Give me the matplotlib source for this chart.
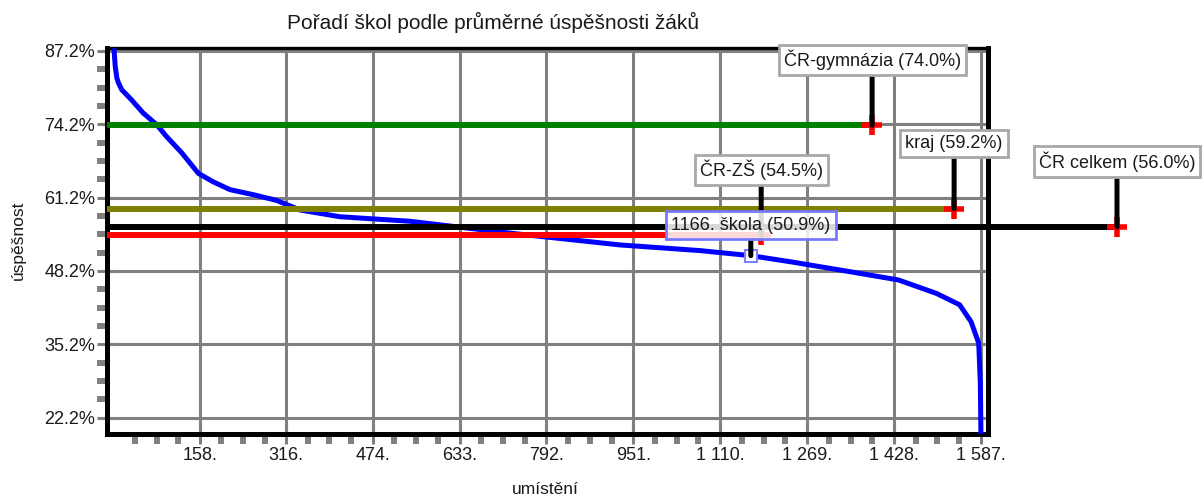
import matplotlib
matplotlib.use('Agg')
import matplotlib.pyplot as plt
import numpy as np

plt.rcParams['font.family'] = ['Liberation Sans', 'DejaVu Sans']

title = 'Pořadí škol podle průměrné úspěšnosti žáků'
xlabel = 'umístění'
ylabel = 'úspěšnost'

# sorted school curve (rank -> average success in %)
ranks = [1, 3, 6, 9, 15, 33, 54, 79, 97, 125, 155, 182, 213, 256, 298, 341, 414,
         542, 725, 927, 1073, 1166, 1240, 1345, 1436, 1506, 1548, 1569, 1583, 1586, 1587]
success = [87.2, 84.5, 82.4, 81.5, 80.3, 78.5, 76.2, 74.1, 72.0, 69.1, 65.5, 64.0, 62.6,
           61.7, 60.7, 59.0, 57.8, 57.0, 54.9, 52.8, 51.8, 50.9, 49.8, 48.1, 46.6, 44.2,
           42.2, 39.2, 35.4, 28.3, 19.6]

xtick_values = [158, 316, 474, 633, 792, 951, 1110, 1269, 1428, 1587]
xtick_labels = ['158.', '316.', '474.', '633.', '792.', '951.', '1 110.', '1 269.', '1 428.', '1 587.']
ytick_values = [22.2, 35.2, 48.2, 61.2, 74.2, 87.2]
ytick_labels = ['22.2%', '35.2%', '48.2%', '61.2%', '74.2%', '87.2%']

ref_names = ['ČR-gymnázia', 'kraj', 'ČR celkem', 'ČR-ZŠ']
ref_values = [74.0, 59.2, 56.0, 54.5]
ref_label_x = [1388, 1538, 1836, 1185]
ref_colors = ['#008000', '#808000', '#000000', '#ff0000']

school_rank = 1166
school_value = 50.9

W, H = 1202, 498
fig = plt.figure(figsize=(W / 100, H / 100), dpi=100)
ax = fig.add_axes([107 / W, 1 - 434 / H, (988 - 107) / W, (434 - 48) / H])
ax.set_xlim(-12, 1600)
ax.set_ylim(19.3, 87.7)

grid_c = '#808080'
txt_c = '#1a1a1a'
ax.set_xticks(xtick_values)
ax.set_xticklabels(xtick_labels)
ax.set_yticks(ytick_values)
ax.set_yticklabels(ytick_labels)

xm = [0] + xtick_values
xminor = []
for a, b in zip(xm[:-1], xm[1:]):
    xminor += list(np.linspace(a, b, 5)[1:-1])
ax.set_xticks(xminor, minor=True)
ym = ytick_values
yminor = []
for a, b in zip(ym[:-1], ym[1:]):
    yminor += list(np.linspace(a, b, 5)[1:-1])
ax.set_yticks(yminor, minor=True)

ax.tick_params(axis='both', which='major', direction='inout', length=15, width=2.2,
               color=grid_c, labelsize=13, labelcolor=txt_c)
ax.tick_params(axis='y', which='major', pad=1.0)
ax.tick_params(axis='x', which='major', pad=1.5)
ax.tick_params(axis='both', which='minor', direction='out', length=7.2, width=4.3,
               color=grid_c)

ax.set_axisbelow(True)
ax.grid(True, which='major', color=grid_c, lw=2.2)

for s in ['left', 'bottom', 'right']:
    ax.spines[s].set_linewidth(3.6)
    ax.spines[s].set_color('black')
ax.spines['top'].set_linewidth(2.4)
ax.spines['top'].set_color('black')

# curve
ax.plot(ranks, success, color='#0000ff', lw=3.6, zorder=3, solid_joinstyle='round')

x0 = ax.get_xlim()[0]
for name, v, lx, c in zip(ref_names, ref_values, ref_label_x, ref_colors):
    ax.plot([x0, lx], [v, v], color=c, lw=4.3, solid_capstyle='butt', zorder=4, clip_on=False)
    ax.plot([lx], [v], marker='+', ms=14, mew=4, color='#ff0000', zorder=5, clip_on=False)
    ax.annotate(f'{name} ({v:.1f}%)', xy=(lx, v), xytext=(0, 47), textcoords='offset points',
                ha='center', va='center', fontsize=13, color=txt_c,
                bbox=dict(boxstyle='square,pad=0.28', fc='white', ec='#a8a8a8', lw=2),
                arrowprops=dict(arrowstyle='-', color='black', lw=3.6, shrinkA=0, shrinkB=0),
                annotation_clip=False, zorder=6)

ax.plot([school_rank], [school_value], marker='s', ms=8, mfc='white', mec='#8080ff',
        mew=1.5, zorder=6)
ax.annotate(f'{school_rank}. škola ({school_value:.1f}%)', xy=(school_rank, school_value),
            xytext=(0, 22), textcoords='offset points', ha='center', va='center',
            fontsize=13, color=txt_c,
            bbox=dict(boxstyle='square,pad=0.3', fc=(1, 1, 1, 0.85), ec='#7878ff', lw=2),
            arrowprops=dict(arrowstyle='-', color='black', lw=3.6, shrinkA=0, shrinkB=0),
            annotation_clip=False, zorder=7)

fig.text(493 / W, 1 - 22 / H, title, ha='center', va='center', fontsize=15, color=txt_c)
fig.text(18 / W, 1 - 240 / H, ylabel, ha='center', va='center', rotation=90, fontsize=12.5,
         color=txt_c)
fig.text(545 / W, 1 - 489 / H, xlabel, ha='center', va='center', fontsize=12.5, color=txt_c)

fig.savefig('out.png', dpi=100)
